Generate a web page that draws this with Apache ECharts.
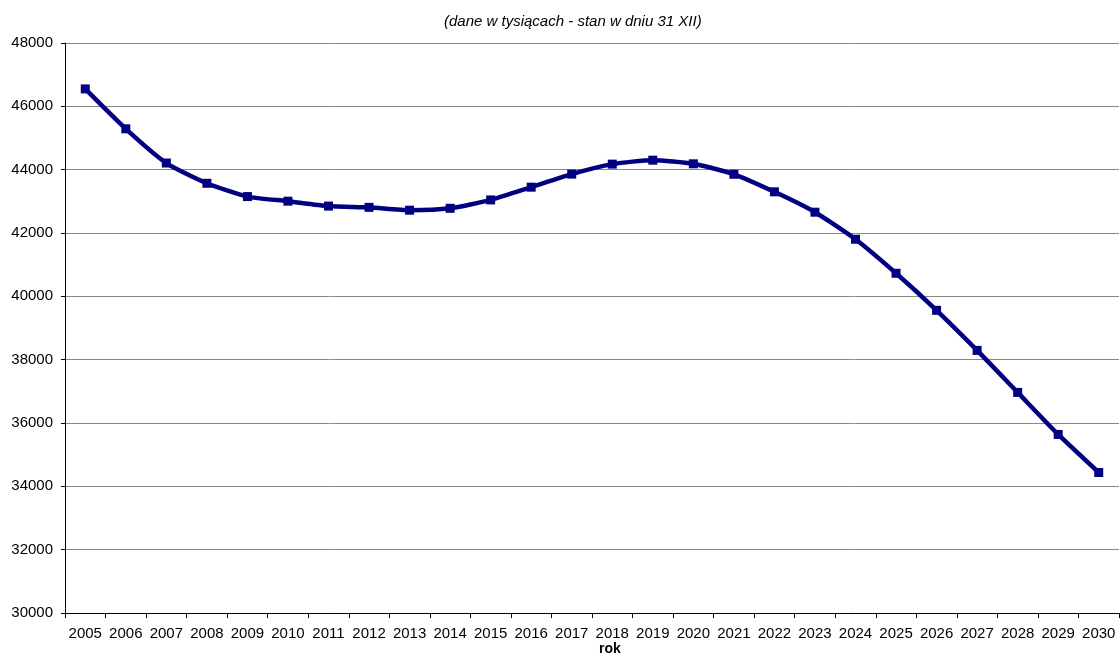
<!DOCTYPE html>
<html><head><meta charset="utf-8">
<script src="https://cdn.jsdelivr.net/npm/echarts@6/dist/echarts.min.js"></script>
<style>html,body{margin:0;padding:0;background:#fff}#c{width:1120px;height:657px}</style>
</head><body><div id="c"></div>
<script>
const years = ['2005','2006','2007','2008','2009','2010','2011','2012','2013','2014','2015','2016','2017','2018','2019','2020','2021','2022','2023','2024','2025','2026','2027','2028','2029','2030'];
const population = [46550,45290,44210,43570,43150,43005,42850,42810,42720,42780,43045,43447,43860,44175,44300,44185,43855,43300,42657,41803,40728,39558,38293,36966,35638,34437];
const yMin = 30000, yMax = 48000, yStep = 2000;
const subtitle = '(dane w tysiącach - stan w dniu 31 XII)';
const xName = 'rok';

const chart = echarts.init(document.getElementById('c'));
chart.setOption({
  animation: false,
  backgroundColor: '#fff',
  title: { text: subtitle, left: 439, top: 9, textStyle: { fontFamily: 'Liberation Sans', fontSize: 15, fontStyle: 'italic', fontWeight: 'normal', color: '#000' } },
  graphic: [{ type: 'text', left: 599, top: 642, style: { text: xName, fontFamily: 'Liberation Sans', fontSize: 14, fontWeight: 'bold', fill: '#000' } }],
  grid: { left: 65, right: 1, top: 43, bottom: 44, containLabel: false },
  xAxis: {
    type: 'category', data: years, boundaryGap: true,
    axisLine: { lineStyle: { color: '#000', width: 1 } },
    axisTick: { show: true, length: 5, lineStyle: { color: '#000' }, alignWithLabel: false },
    axisLabel: { color: '#000', fontFamily: 'Liberation Sans', fontSize: 15, margin: 13, interval: 0 },
    splitLine: { show: false }
  },
  yAxis: {
    type: 'value', min: yMin, max: yMax, interval: yStep,
    axisLine: { show: true, lineStyle: { color: '#000', width: 1 } },
    axisTick: { show: true, length: 4, lineStyle: { color: '#000' } },
    axisLabel: { color: '#000', fontFamily: 'Liberation Sans', fontSize: 15, margin: 12, formatter: v => String(v) },
    splitLine: { show: true, lineStyle: { color: '#888', width: 1 } }
  },
  series: [{
    type: 'line', data: population, smooth: 0.2,
    lineStyle: { color: '#000080', width: 4.5 },
    itemStyle: { color: '#000080' },
    symbol: 'rect', symbolSize: 9, showAllSymbol: true
  }]
});
</script></body></html>
